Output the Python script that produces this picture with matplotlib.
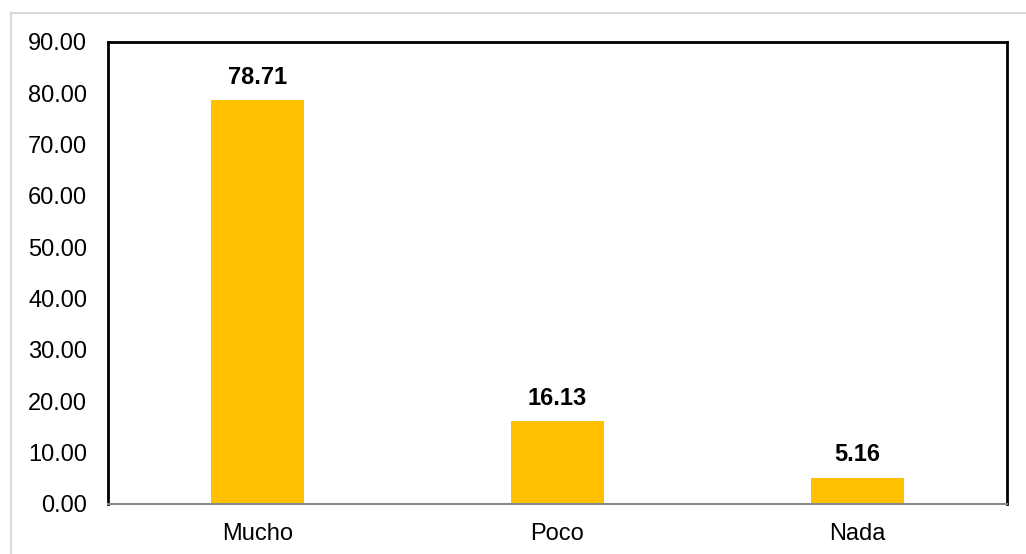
import matplotlib.pyplot as plt
from matplotlib.lines import Line2D

# Category values
categories = ["Mucho", "Poco", "Nada"]
values = [78.71, 16.13, 5.16]
yticks = [0, 10, 20, 30, 40, 50, 60, 70, 80, 90]

plt.rcParams["font.family"] = ["Liberation Sans", "DejaVu Sans"]

fig = plt.figure(figsize=(10.26, 5.54), dpi=100)
W, H = 1026, 554
ax = fig.add_axes([108 / W, 1 - 504 / H, (1007 - 108) / W, (504 - 42) / H])

x = range(len(categories))
bars = ax.bar(x, values, width=0.31, color="#FFC000", zorder=2)
for b, v in zip(bars, values):
    ax.annotate(f"{v:.2f}", (b.get_x() + b.get_width() / 2, v),
                xytext=(0, 8), textcoords="offset points",
                ha="center", va="bottom", fontsize=17, fontweight="bold")

ax.set_xlim(-0.5, len(categories) - 0.5)
ax.set_ylim(0, 90)
ax.set_yticks(yticks)
ax.set_yticklabels([f"{t:.2f}" for t in yticks], fontsize=17)
ax.set_xticks(list(x))
ax.set_xticklabels(categories, fontsize=17)
ax.tick_params(length=0)
ax.tick_params(axis="x", pad=14)
ax.tick_params(axis="y", pad=15)

for side in ["left", "top", "right"]:
    ax.spines[side].set_color("black")
    ax.spines[side].set_linewidth(2)
ax.spines["bottom"].set_color("#888888")
ax.spines["bottom"].set_linewidth(1.5)
ax.spines["bottom"].set_zorder(3)

# light grey outer frame
fig.add_artist(Line2D([11 / W, 1.0], [1 - 13 / H, 1 - 13 / H], color="#d9d9d9", lw=1.5))
fig.add_artist(Line2D([11 / W, 11 / W], [0, 1 - 13 / H], color="#d9d9d9", lw=1.5))

fig.savefig("out.png", dpi=100)
